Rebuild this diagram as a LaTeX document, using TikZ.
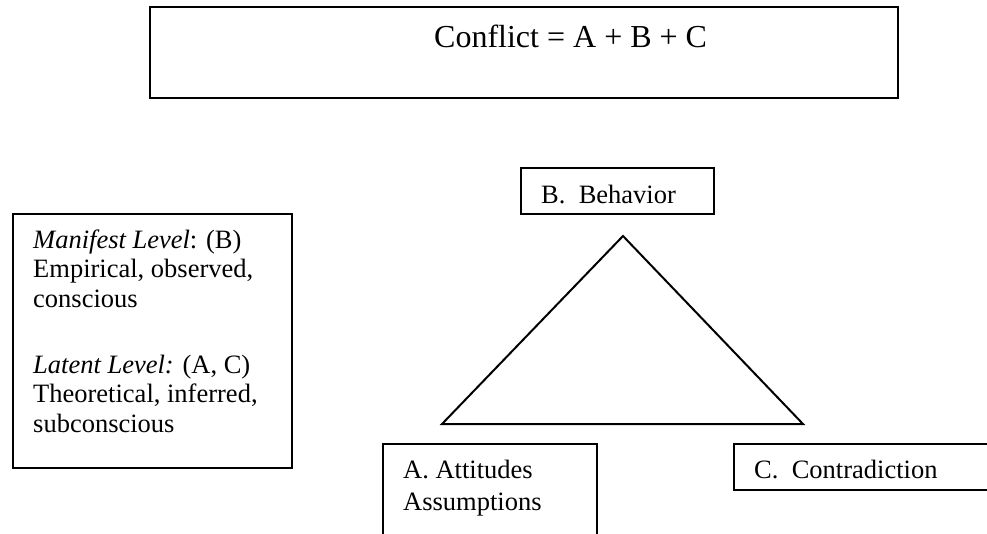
\documentclass[tikz,border=0pt]{standalone}
\usepackage{fontspec}
\setmainfont{Liberation Serif}

\tikzset{
  box/.style={draw, line width=2pt, inner sep=0pt, anchor=north west},
  lbl/.style={inner sep=0pt, anchor=base west, align=left, font=\fontsize{26.5}{29.5}\selectfont},
}

\begin{document}
\begin{tikzpicture}[x=1pt, y=-1pt]
\clip (0,0) rectangle (987,533);
\node[box, minimum width=748pt, minimum height=91pt] (conflict) at (149,6) {};
\node[lbl, font=\fontsize{32}{38}\selectfont] (conflicttxt) at (434,47) {Conflict = A + B + C};

\node[box, minimum width=193pt, minimum height=46pt] (behavior) at (520,167) {};
\node[lbl] (behaviortxt) at (541,203) {B.\ \ Behavior};

\node[box, minimum width=279pt, minimum height=254pt] (levels) at (12,213) {};
% base anchor sits on the last line
\node[lbl] (manifest) at (33,307) {\textit{Manifest Level}: (B)\\Empirical, observed,\\conscious};
\node[lbl] (latent) at (33,432) {\textit{Latent Level:} (A, C)\\Theoretical, inferred,\\subconscious};

\coordinate (apex) at (623,236);
\coordinate (baseL) at (442,424);
\coordinate (baseR) at (803,424);
\draw[line width=2pt] (apex) -- (baseR) -- (baseL) -- cycle;

\node[box, minimum width=214pt, minimum height=110pt] (attitudes) at (382,443) {};
\node[lbl] (attitudestxt) at (403,510) {A. Attitudes\\[2.5pt]Assumptions};

\node[box, minimum width=270pt, minimum height=46pt] (contradiction) at (733,443) {};
\node[lbl] (contradictiontxt) at (754,478) {C.\ \ Contradiction};

\end{tikzpicture}
\end{document}
